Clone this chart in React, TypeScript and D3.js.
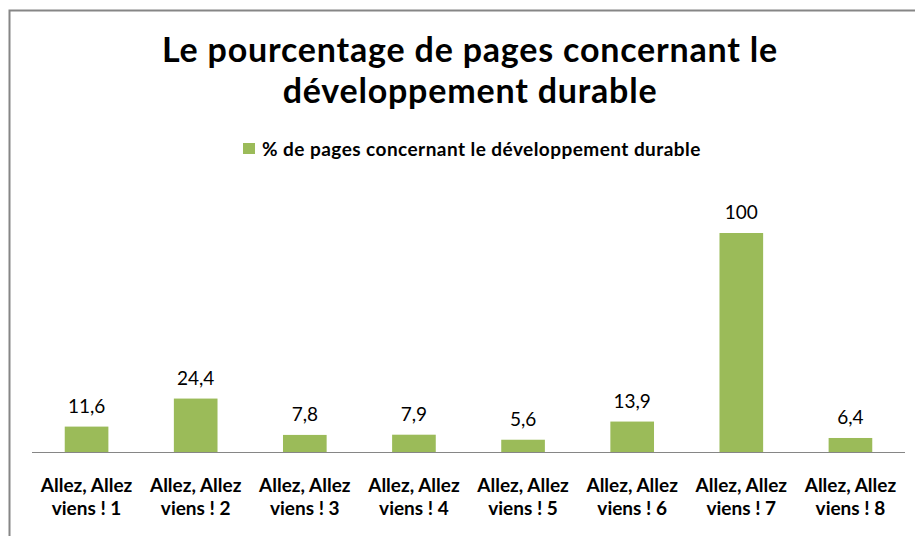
import * as d3 from "d3";

const categories = [
  "Allez, Allez viens ! 1",
  "Allez, Allez viens ! 2",
  "Allez, Allez viens ! 3",
  "Allez, Allez viens ! 4",
  "Allez, Allez viens ! 5",
  "Allez, Allez viens ! 6",
  "Allez, Allez viens ! 7",
  "Allez, Allez viens ! 8",
];
const values = [11.6, 24.4, 7.8, 7.9, 5.6, 13.9, 100, 6.4];
const titleLines = ["Le pourcentage de pages concernant le", "développement durable"];
const seriesName = "% de pages concernant le développement durable";

const width = 915;
const height = 536;
const green = "#9BBB59";
const font = "Lato, sans-serif";

export default function App() {
  const x = d3.scaleBand<string>().domain(categories).range([32, 905]).paddingInner(0.6).paddingOuter(0.3);
  const y = d3.scaleLinear().domain([0, 100]).range([452, 233]);
  const fmt = (v: number) => String(v).replace(".", ",");

  return (
    <svg width={width} height={height} style={{ position: "absolute", left: 0, top: 0, background: "#fff" }}>
      <rect x={9.5} y={10.5} width={width + 10} height={height + 10} fill="#fff" stroke="#868686" strokeWidth={2} />
      {titleLines.map((t, i) => (
        <text key={t} x={470} y={62 + i * 41} textAnchor="middle" fontFamily={font} fontWeight="bold" fontSize={34} letterSpacing={0.8} fill="#000">
          {t}
        </text>
      ))}
      <rect x={243} y={143} width={12} height={11} fill={green} />
      <text x={262} y={156} fontFamily={font} fontWeight="bold" fontSize={19} letterSpacing={0.45} fill="#000">
        {seriesName}
      </text>
      {values.map((v, i) => {
        const c = categories[i];
        const cx = (x(c) as number) + x.bandwidth() / 2;
        return (
          <g key={c}>
            <rect x={x(c)} y={y(v)} width={x.bandwidth()} height={y(0) - y(v)} fill={green} />
            <text x={cx} y={y(v) - 14} textAnchor="middle" fontFamily={font} fontSize={19} fill="#000">
              {fmt(v)}
            </text>
          </g>
        );
      })}
      <line x1={32} x2={905} y1={y(0) + 0.5} y2={y(0) + 0.5} stroke="#868686" strokeWidth={1.2} />
      {categories.map((c) => {
        const cx = (x(c) as number) + x.bandwidth() / 2;
        const parts = c.split(" viens");
        return (
          <text key={c} x={cx} textAnchor="middle" fontFamily={font} fontWeight="bold" fontSize={19} fill="#000">
            <tspan x={cx} y={492}>{parts[0]}</tspan>
            <tspan x={cx} y={515}>{"viens" + parts[1]}</tspan>
          </text>
        );
      })}
    </svg>
  );
}
